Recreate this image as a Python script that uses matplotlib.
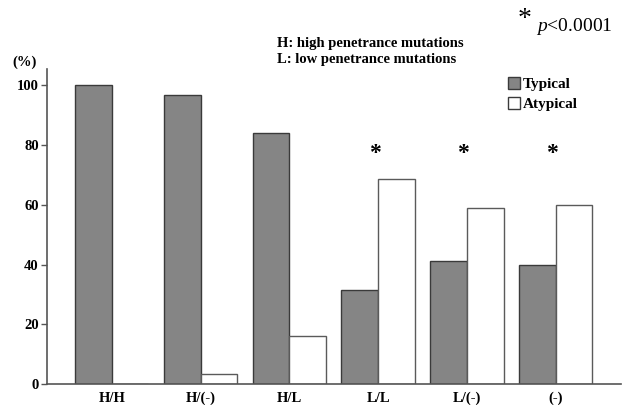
import matplotlib
matplotlib.use("Agg")
import matplotlib.pyplot as plt
import numpy as np
from matplotlib.patches import Patch

categories = ["H/H", "H/(-)", "H/L", "L/L", "L/(-)", "(-)"]
typical = [100.0, 96.7, 84.0, 31.4, 41.2, 40.0]
atypical = [0.0, 3.3, 16.0, 68.6, 58.8, 60.0]
significant = [False, False, False, True, True, True]
yticks = [0, 20, 40, 60, 80, 100]

plt.rcParams['font.family'] = ['Liberation Serif', 'DejaVu Serif']
plt.rcParams['mathtext.fontset'] = 'custom'
plt.rcParams['mathtext.rm'] = 'Liberation Serif'
plt.rcParams['mathtext.it'] = 'Liberation Serif:italic'

fig = plt.figure(figsize=(6.3, 4.05), dpi=100)
ax = fig.add_axes([0.0746, 0.0511, 0.9111, 0.7785])

x = np.arange(len(categories))
w = 0.413
ax.bar(x - w / 2, typical, width=w, color="#858585", edgecolor="#3a3a3a", linewidth=1.0, label="Typical")
ax.bar(x + w / 2, atypical, width=w, color="white", edgecolor="#5a5a5a", linewidth=1.0, label="Atypical")

for xi, s in zip(x, significant):
    if s:
        ax.text(xi - 0.04, 77.0, "*", ha="center", va="center", fontsize=17, fontweight="bold")

ax.set_xlim(-0.729, 5.735)
ax.set_ylim(0, 105.3)
ax.set_yticks(yticks)
ax.set_yticklabels([str(t) for t in yticks], fontsize=10.5, fontweight="bold")
ax.set_xticks(x)
ax.set_xticklabels(categories, fontsize=10.5, fontweight="bold")
ax.tick_params(axis="x", length=0, pad=5.5)
ax.tick_params(axis="y", length=4, width=1, color="#555555", pad=2)
for side in ["top", "right"]:
    ax.spines[side].set_visible(False)
for side in ["left", "bottom"]:
    ax.spines[side].set_color("#555555")
    ax.spines[side].set_linewidth(1.2)

handles = [Patch(facecolor="#858585", edgecolor="#3a3a3a"), Patch(facecolor="white", edgecolor="#3a3a3a")]
ax.legend(handles, ["Typical", "Atypical"], loc="upper left", bbox_to_anchor=(0.803, 0.975),
          frameon=False, handlelength=0.8, handleheight=0.8, handletextpad=0.15,
          labelspacing=0.4, borderaxespad=0, borderpad=0,
          prop={"family": "Liberation Serif", "weight": "bold", "size": 11})

fig.text(12 / 630, 1 - 62 / 405, "(%)", fontsize=10.5, fontweight="bold", ha="left", va="center")
fig.text(277 / 630, 1 - 43 / 405, "H: high penetrance mutations", fontsize=10.5, fontweight="bold", ha="left", va="center")
fig.text(277 / 630, 1 - 60 / 405, "L: low penetrance mutations", fontsize=10.5, fontweight="bold", ha="left", va="center")
fig.text(525 / 630, 1 - 20 / 405, "*", fontsize=20, ha="center", va="center")
fig.text(536 / 630, 1 - 31 / 405, r"$p$<0.0001", fontsize=14, ha="left", va="baseline")

fig.savefig("out.png", dpi=100)
